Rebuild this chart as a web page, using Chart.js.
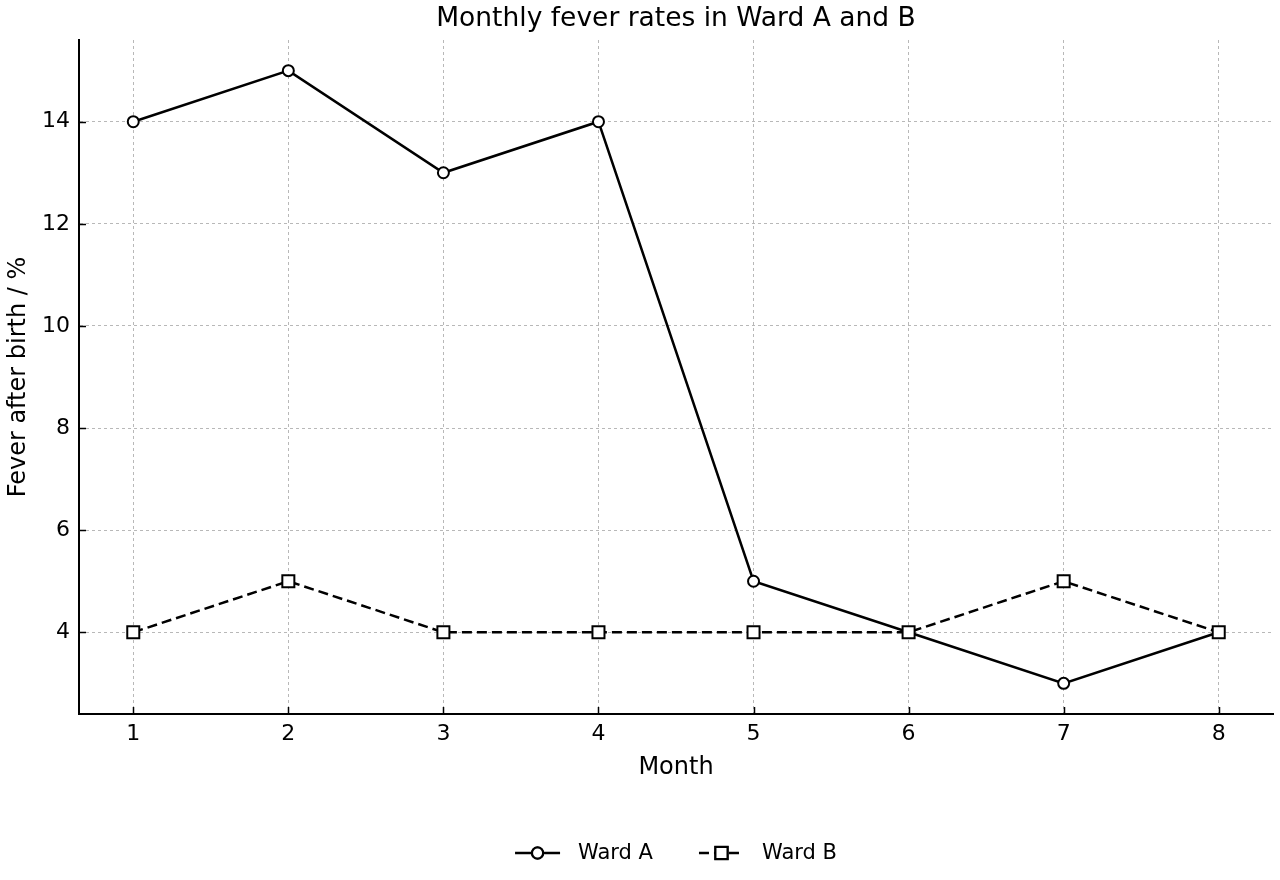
<!DOCTYPE html>
<html>
<head>
<meta charset="utf-8">
<script src="https://cdn.jsdelivr.net/npm/chart.js@4.4.1/dist/chart.umd.min.js"></script>
<style>
  html, body { margin: 0; padding: 0; background: #fff; }
  #wrap { width: 1280px; height: 880px; }
</style>
</head>
<body>
<div id="wrap"><canvas id="chart"></canvas></div>
<script>
// Data
const months = [1, 2, 3, 4, 5, 6, 7, 8];
const wardA = [14, 15, 13, 14, 5, 4, 3, 4];
const wardB = [4, 5, 4, 4, 4, 4, 5, 4];
const xTicks = [1, 2, 3, 4, 5, 6, 7, 8];
const yTicks = [4, 6, 8, 10, 12, 14];
const seriesNames = ['Ward A', 'Ward B'];
const chartTitle = 'Monthly fever rates in Ward A and B';

Chart.defaults.font.family = '"DejaVu Sans", sans-serif';
Chart.defaults.color = '#000';

// title centred over the plot area (like matplotlib)
const titlePlugin = {
    id: 'axesTitle',
    afterDraw(chart) {
        const { ctx, chartArea } = chart;
        ctx.save();
        ctx.font = '26.5px "DejaVu Sans"';
        ctx.fillStyle = '#000';
        ctx.textAlign = 'center';
        ctx.textBaseline = 'middle';
        ctx.fillText(chartTitle, (chartArea.left + chartArea.right) / 2, 19);
        ctx.restore();
    }
};

// inward tick marks on the two spines
const tickMarks = {
    id: 'tickMarks',
    afterDraw(chart) {
        const { ctx, chartArea, scales } = chart;
        ctx.save();
        ctx.strokeStyle = '#000';
        ctx.lineWidth = 1.5;
        ctx.beginPath();
        scales.x.ticks.forEach(t => {
            const px = Math.round(scales.x.getPixelForValue(t.value)) + 0.5;
            ctx.moveTo(px, chartArea.bottom);
            ctx.lineTo(px, chartArea.bottom - 7);
        });
        scales.y.ticks.forEach(t => {
            const py = Math.round(scales.y.getPixelForValue(t.value)) + 0.5;
            ctx.moveTo(chartArea.left, py);
            ctx.lineTo(chartArea.left + 7, py);
        });
        ctx.stroke();
        ctx.restore();
    }
};

// legend with line + marker samples, centred under the axes
const lineLegend = {
    id: 'lineLegend',
    afterDraw(chart) {
        const { ctx, chartArea } = chart;
        const y = 853;
        const sampleW = 45, gap = 18, spacing = 46;
        ctx.save();
        ctx.font = '21px "DejaVu Sans"';
        const items = chart.data.datasets.map(ds => ({ ds, w: ctx.measureText(ds.label).width }));
        const total = items.reduce((s, it) => s + sampleW + gap + it.w, 0) + spacing * (items.length - 1);
        let x = (chartArea.left + chartArea.right) / 2 - total / 2;
        items.forEach(({ ds, w }) => {
            ctx.strokeStyle = ds.borderColor;
            ctx.lineWidth = ds.borderWidth;
            ctx.setLineDash(ds.borderDash || []);
            ctx.beginPath();
            ctx.moveTo(x, y);
            ctx.lineTo(x + sampleW, y);
            ctx.stroke();
            ctx.setLineDash([]);
            Chart.helpers.drawPoint(ctx, {
                pointStyle: ds.pointStyle,
                radius: ds.pointRadius,
                borderWidth: ds.pointBorderWidth,
                rotation: 0
            }, x + sampleW / 2, y);
            ctx.fillStyle = ds.pointBackgroundColor;
            ctx.strokeStyle = ds.pointBorderColor;
            ctx.lineWidth = ds.pointBorderWidth;
            ctx.fill();
            ctx.stroke();
            ctx.fillStyle = '#000';
            ctx.textAlign = 'left';
            ctx.textBaseline = 'middle';
            ctx.fillText(ds.label, x + sampleW + gap, y + 1);
            x += sampleW + gap + w + spacing;
        });
        ctx.restore();
    }
};

const ctx = document.getElementById('chart').getContext('2d');
new Chart(ctx, {
    type: 'line',
    data: {
        datasets: [
            {
                label: seriesNames[0],
                data: months.map((m, i) => ({ x: m, y: wardA[i] })),
                borderColor: '#000',
                borderWidth: 2.5,
                tension: 0,
                pointStyle: 'circle',
                pointRadius: 5.5,
                pointBorderWidth: 2,
                pointBackgroundColor: '#fff',
                pointBorderColor: '#000',
                order: 1
            },
            {
                label: seriesNames[1],
                data: months.map((m, i) => ({ x: m, y: wardB[i] })),
                borderColor: '#000',
                borderWidth: 2.5,
                borderDash: [10, 5],
                tension: 0,
                pointStyle: 'rect',
                pointRadius: 8.5,
                pointBorderWidth: 2,
                pointBackgroundColor: '#fff',
                pointBorderColor: '#000',
                order: 0
            }
        ]
    },
    options: {
        responsive: true,
        maintainAspectRatio: false,
        animation: false,
        devicePixelRatio: 1,
        layout: { autoPadding: false, padding: { top: 40, right: 7, bottom: 96, left: 0 } },
        plugins: {
            legend: { display: false },
            title: { display: false },
            tooltip: { enabled: false }
        },
        scales: {
            x: {
                type: 'linear',
                min: 0.65,
                max: 8.35,
                afterBuildTicks: s => { s.ticks = xTicks.map(v => ({ value: v })); },
                afterFit: s => { s.height = 70; },
                ticks: { font: { size: 22 }, padding: 7, maxRotation: 0, color: '#000' },
                grid: { color: '#b8b8b8', lineWidth: 1, drawTicks: false },
                border: { color: '#000', width: 2, dash: [3, 3] },
                title: { display: true, text: 'Month', font: { size: 24 }, color: '#000', padding: { top: 0, bottom: 2 } }
            },
            y: {
                min: 2.4,
                max: 15.6,
                afterBuildTicks: s => { s.ticks = yTicks.map(v => ({ value: v })); },
                afterFit: s => { s.width = 79; },
                ticks: { font: { size: 22 }, padding: 9, color: '#000' },
                grid: { color: '#b8b8b8', lineWidth: 1, drawTicks: false },
                border: { color: '#000', width: 2, dash: [3, 3] },
                title: { display: true, text: 'Fever after birth / %', font: { size: 24 }, color: '#000', padding: { top: 4, bottom: 0 } }
            }
        }
    },
    plugins: [titlePlugin, tickMarks, lineLegend]
});
</script>
</body>
</html>
